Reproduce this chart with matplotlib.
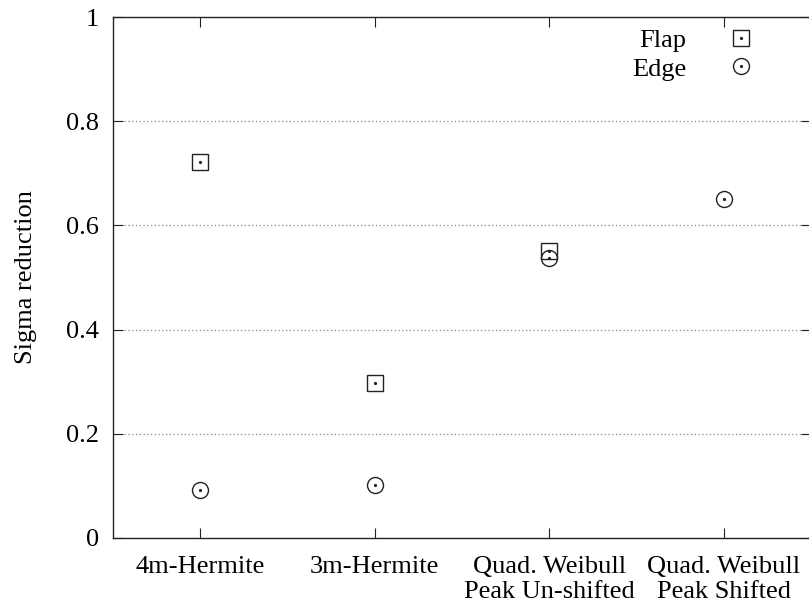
import matplotlib
matplotlib.use("Agg")
import matplotlib.pyplot as plt
from matplotlib.legend_handler import HandlerTuple
import numpy as np

categories = ["4m-Hermite", "3m-Hermite", "Quad. Weibull\nPeak Un-shifted", "Quad. Weibull\nPeak Shifted"]
flap = [0.722, 0.297, 0.551, np.nan]
edge = [0.092, 0.102, 0.537, 0.651]
yticks = [0, 0.2, 0.4, 0.6, 0.8, 1]
ytick_labels = ["0", "0.2", "0.4", "0.6", "0.8", "1"]

FS = 19
plt.rcParams['font.family'] = ['Liberation Serif', 'DejaVu Serif']
fig = plt.figure(figsize=(8.09, 6.07), dpi=100)
ax = fig.add_axes([113/809, (607-538)/607, (811-113)/809, (538-17)/607])

x = np.arange(1, len(categories) + 1)
sq = ax.plot(x, flap, linestyle='none', marker='s', markersize=11, markerfacecolor='none',
             markeredgecolor='#222222', markeredgewidth=1.0)[0]
sqd = ax.plot(x, flap, linestyle='none', marker='o', markersize=1.3, color='#222222')[0]
ci = ax.plot(x, edge, linestyle='none', marker='o', markersize=11.5, markerfacecolor='none',
             markeredgecolor='#222222', markeredgewidth=1.0)[0]
cid = ax.plot(x, edge, linestyle='none', marker='o', markersize=1.3, color='#222222')[0]

ax.set_xlim(0.5, 4.5)
ax.set_ylim(0, 1)
ax.set_xticks(x)
ax.set_xticklabels(categories, fontsize=FS, linespacing=1.2)
ax.set_yticks(yticks)
ax.set_yticklabels(ytick_labels, fontsize=FS)
ax.tick_params(direction='in', length=7, width=0.8, top=True, right=True, colors='#222222')
ax.tick_params(axis='y', pad=10)
ax.tick_params(axis='x', pad=13)
for lab in ax.get_xticklabels() + ax.get_yticklabels():
    lab.set_color('black')
for y in yticks[1:-1]:
    ax.axhline(y, color='#888888', linestyle=(0, (1.0, 2.0)), linewidth=0.9, zorder=0)
for s in ax.spines.values():
    s.set_linewidth(1.0)
    s.set_color('#222222')
ax.set_ylabel("Sigma reduction", fontsize=FS, labelpad=21)

leg = ax.legend([(sq, sqd), (ci, cid)], ["Flap", "Edge"],
                handler_map={tuple: HandlerTuple(ndivide=1, pad=0)},
                loc='upper right', bbox_to_anchor=(0.945, 1.0), frameon=False, fontsize=FS,
                markerfirst=False, handlelength=1.5, handletextpad=1.33, labelspacing=0.18,
                borderaxespad=0.05)

fig.savefig("out.png", dpi=100)
